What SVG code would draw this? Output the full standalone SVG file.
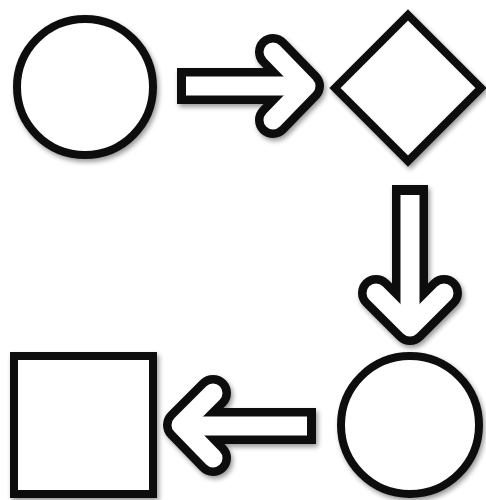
<svg xmlns="http://www.w3.org/2000/svg" width="486" height="500" viewBox="0 0 486 500">
  <defs>
    <filter id="sh" filterUnits="userSpaceOnUse" x="-20" y="-20" width="526" height="540">
      <feGaussianBlur in="SourceAlpha" stdDeviation="2.5"/>
      <feOffset dx="2" dy="3" result="b"/>
      <feComponentTransfer><feFuncA type="linear" slope="0.4"/></feComponentTransfer>
      <feMerge><feMergeNode/><feMergeNode in="SourceGraphic"/></feMerge>
    </filter>
  </defs>
  <style>
    .node { fill: #ffffff; stroke: #111111; stroke-width: 8; stroke-linejoin: miter; }
    .ob { fill: none; stroke: #111111; stroke-width: 36; stroke-linecap: butt; }
    .ow { fill: none; stroke: #ffffff; stroke-width: 19; stroke-linecap: butt; }
    .hb { fill: none; stroke: #111111; stroke-width: 36; stroke-linecap: round; stroke-linejoin: round; }
    .hw { fill: none; stroke: #ffffff; stroke-width: 19; stroke-linecap: round; stroke-linejoin: round; }
  </style>
  <rect width="486" height="500" fill="#ffffff"/>
  <g id="connectors">
    <g id="arrow1" filter="url(#sh)">
      <path class="ob" d="M177,86 H300"/>
      <path class="hb" d="M273,52 L306,86 L273,120"/>
      <path class="ow" d="M186,86 H303"/>
      <path class="hw" d="M273,52 L306,86 L273,120"/>
    </g>
    <g id="arrow2" filter="url(#sh)">
      <path class="ob" d="M410,185 V321"/>
      <path class="hb" d="M376,293 L410,327 L444,293"/>
      <path class="ow" d="M410,195 V324"/>
      <path class="hw" d="M376,293 L410,327 L444,293"/>
    </g>
    <g id="arrow3" filter="url(#sh)">
      <path class="ob" d="M316,426 H187"/>
      <path class="hb" d="M213,393 L181,425 L213,458"/>
      <path class="ow" d="M307,426 H184"/>
      <path class="hw" d="M213,393 L181,425 L213,458"/>
    </g>
  </g>
  <g id="circle1" filter="url(#sh)">
    <circle class="node" cx="85" cy="87" r="68"/>
  </g>
  <g id="diamond" filter="url(#sh)">
    <polygon class="node" points="408,15 481,88 408,161 335,88"/>
  </g>
  <g id="circle2" filter="url(#sh)">
    <circle class="node" cx="410" cy="425" r="69"/>
  </g>
  <g id="square" filter="url(#sh)">
    <rect class="node" x="14" y="356" width="139" height="138"/>
  </g>
</svg>
